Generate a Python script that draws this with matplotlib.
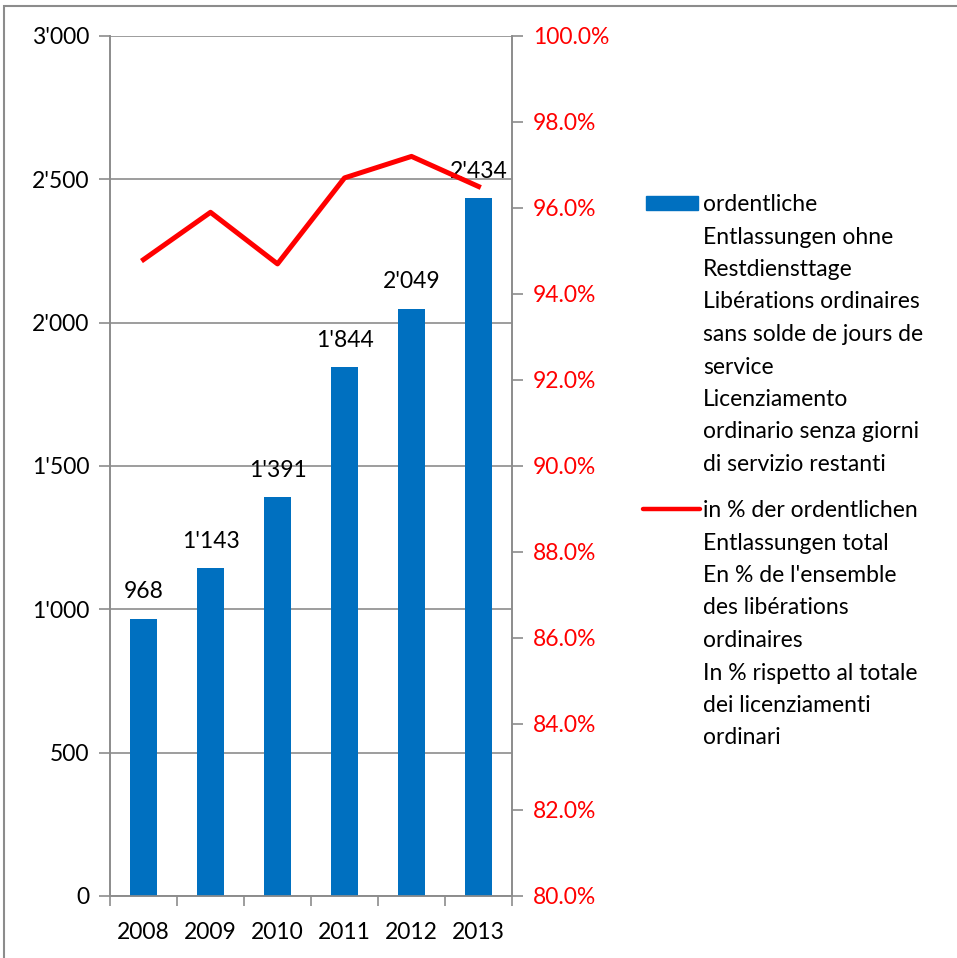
import numpy as np
import matplotlib.pyplot as plt
from matplotlib.patches import Rectangle
from matplotlib.lines import Line2D
from matplotlib.ticker import FuncFormatter

plt.rcParams['font.family'] = ['Lato', 'DejaVu Sans']

years = ['2008', '2009', '2010', '2011', '2012', '2013']
entlassungen = [968, 1143, 1391, 1844, 2049, 2434]
prozent = [94.8, 95.9, 94.7, 96.7, 97.2, 96.5]

label_bar = ["ordentliche", "Entlassungen ohne", "Restdiensttage",
             "Libérations ordinaires", "sans solde de jours de", "service",
             "Licenziamento", "ordinario senza giorni", "di servizio restanti"]
label_line = ["in % der ordentlichen", "Entlassungen total",
              "En % de l'ensemble", "des libérations", "ordinaires",
              "In % rispetto al totale", "dei licenziamenti", "ordinari"]

blue = '#0070C0'
red = '#FF0000'
grey = '#8C8C8C'
W, H = 957, 958

def apos(v, pos=None):
    return f"{int(v):,}".replace(',', "'")

fig = plt.figure(figsize=(W/100, H/100), dpi=100)
ax = fig.add_axes([110/W, 1-896/H, 402/W, 860/H])
ax2 = ax.twinx()

x = np.arange(len(years))
ax.bar(x, entlassungen, width=0.4, color=blue, zorder=3)
for xi, v in zip(x, entlassungen):
    ax.annotate(apos(v), (xi, v), xytext=(0, 14.5), textcoords='offset points',
                ha='center', va='baseline', fontsize=16.5, zorder=5)

ax2.plot(x, prozent, color=red, lw=3.6, zorder=4)

ax.set_xlim(-0.5, 5.5)
ax.set_ylim(0, 3000)
ax.set_yticks(np.arange(0, 3001, 500))
ax.yaxis.set_major_formatter(FuncFormatter(apos))
ax.grid(axis='y', color=grey, lw=1.2, zorder=0)
ax.set_axisbelow(True)

ax2.set_ylim(80, 100)
ax2.set_yticks(np.arange(80, 100.1, 2))
ax2.yaxis.set_major_formatter(FuncFormatter(lambda v, p: f"{v:.1f}%"))

ax.set_xticks(x)
ax.set_xticklabels(years)
ax.set_xticks(np.arange(-0.5, 5.6, 1), minor=True)
ax.tick_params(axis='x', which='major', length=0, pad=19, labelsize=16.5)
ax.tick_params(axis='x', which='minor', length=7, color=grey, width=1.2)
ax.tick_params(axis='y', length=8, color=grey, width=1.2, labelsize=16.5, pad=7)
ax2.tick_params(axis='y', length=8, color=grey, width=1.2, labelsize=16.5,
                labelcolor=red, pad=7)

for a in (ax, ax2):
    a.spines['top'].set_visible(False)
    for s in ('left', 'right', 'bottom'):
        a.spines[s].set_color(grey)
        a.spines[s].set_linewidth(1.2)

# legend drawn by hand, keys aligned with the first line of each entry
step = 32.5
fig.add_artist(Rectangle((646/W, 1-210/H), 52/W, 14/H,
                         transform=fig.transFigure, color=blue))
for i, line in enumerate(label_bar):
    fig.text(703/W, 1-(211 + i*step)/H, line, ha='left', va='baseline',
             fontsize=16.5)
fig.add_artist(Line2D([643/W, 700/W], [1-509/H, 1-509/H],
                      transform=fig.transFigure, color=red, lw=3.2,
                      solid_capstyle='round'))
for i, line in enumerate(label_line):
    fig.text(703/W, 1-(517 + i*step)/H, line, ha='left', va='baseline',
             fontsize=16.5)

# chart frame
fig.add_artist(Rectangle((4/W, -0.05), 1.2, 1.05 - 6/H,
                         transform=fig.transFigure, fill=False,
                         edgecolor=grey, lw=1.5))

fig.savefig('out.png', dpi=100)
